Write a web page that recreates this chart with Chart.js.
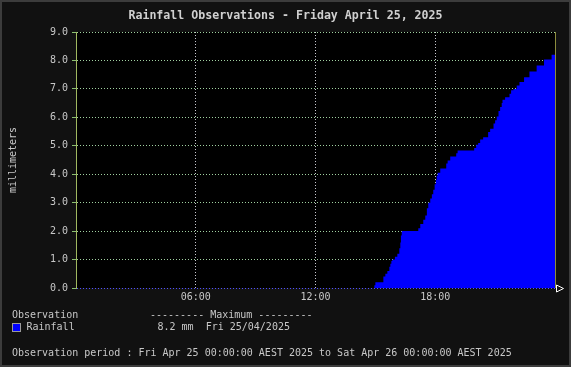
<!DOCTYPE html>
<html>
<head>
<meta charset="utf-8">
<script src="https://cdn.jsdelivr.net/npm/chart.js@4.4.1/dist/chart.umd.min.js"></script>
<style>
  html, body { margin: 0; padding: 0; background: #111111; }
  #wrap { position: relative; width: 571px; height: 367px; overflow: hidden; background: #111111; }
  #c { position: absolute; left: 0; top: 0; }
  .t { position: absolute; font-family: "DejaVu Sans Mono", monospace; font-size: 10px; line-height: 12px; color: #c8c8c8; white-space: pre; }
  #title { left: 0; width: 571px; text-align: center; top: 8px; font-size: 11.6px; line-height: 14px; font-weight: bold; color: #d0d0d0; }
  #swatch { position: absolute; left: 12px; top: 323px; width: 7px; height: 7px; background: #0000ff; border: 1px solid #9a9a9a; }
  #frame { position: absolute; left: 0; top: 0; width: 571px; height: 367px; box-sizing: border-box; border: 2px solid #3c3c3c; pointer-events: none; }
</style>
</head>
<body>
<div id="wrap">
  <canvas id="c" width="571" height="367"></canvas>
  <div class="t" id="title">Rainfall Observations - Friday April 25, 2025</div>
  <div class="t" style="left:12px; top:308.5px;">Observation</div>
  <div class="t" style="left:150px; top:308.5px;">--------- Maximum ---------</div>
  <div id="swatch"></div>
  <div class="t" style="left:26.5px; top:321.2px;">Rainfall</div>
  <div class="t" style="left:157.5px; top:321.2px;">8.2 mm  Fri 25/04/2025</div>
  <div class="t" style="left:12px; top:347.3px;">Observation period : Fri Apr 25 00:00:00 AEST 2025 to Sat Apr 26 00:00:00 AEST 2025</div>
  <div id="frame"></div>
</div>
<script>
// Observation times (hours since midnight) and cumulative rainfall (mm)
const obsHours = [0, 14.95, 15.0, 15.4, 15.5, 15.6, 15.7, 15.75, 15.8, 15.85, 15.98, 16.1, 16.2, 16.25, 16.28, 16.32,
  17.15, 17.25, 17.4, 17.5, 17.58, 17.65, 17.75, 17.83, 17.9, 17.97, 18.03, 18.07, 18.12, 18.25, 18.55, 18.62, 18.75,
  19.05, 19.12, 19.95, 20.05, 20.15, 20.25, 20.4, 20.65, 20.75, 20.92, 21.0, 21.08, 21.17, 21.25, 21.33, 21.37, 21.5,
  21.72, 21.8, 21.92, 22.08, 22.22, 22.45, 22.72, 23.08, 23.45, 23.83, 24];
const rainfallMm = [0, 0.1, 0.2, 0.4, 0.5, 0.6, 0.75, 0.85, 0.95, 1.0, 1.1, 1.2, 1.4, 1.6, 1.85, 2.0,
  2.1, 2.25, 2.4, 2.55, 2.8, 3.0, 3.15, 3.3, 3.45, 3.65, 3.8, 3.95, 4.05, 4.2, 4.38, 4.48, 4.62,
  4.74, 4.83, 4.92, 5.04, 5.1, 5.22, 5.3, 5.48, 5.6, 5.78, 5.9, 6.03, 6.22, 6.36, 6.5, 6.62, 6.71,
  6.83, 6.95, 7.0, 7.12, 7.24, 7.41, 7.61, 7.82, 8.03, 8.2, 8.2];
const xTickValues = [6, 12, 18];
const xTickLabels = ['06:00', '12:00', '18:00'];
const yMin = 0, yMax = 9, yStep = 1;

const FONT = 'DejaVu Sans Mono';

const decor = {
  id: 'decor',
  beforeDraw(chart) {
    const {ctx, chartArea: a} = chart;
    ctx.save();
    ctx.fillStyle = '#111111';
    ctx.fillRect(0, 0, chart.width, chart.height);
    ctx.fillStyle = '#000000';
    ctx.fillRect(a.left, a.top, a.right - a.left, a.bottom - a.top);
    ctx.restore();
  },
  afterDraw(chart) {
    const {ctx, chartArea: a} = chart;
    ctx.save();
    ctx.strokeStyle = '#8c8c3c';
    ctx.lineWidth = 1;
    ctx.beginPath();
    ctx.moveTo(Math.round(a.right) + 0.5, a.top);
    ctx.lineTo(Math.round(a.right) + 0.5, a.bottom);
    ctx.stroke();
    ctx.strokeStyle = '#ffffff';
    const x0 = Math.round(a.right) + 1.5, y0 = Math.round(a.bottom) + 0.5;
    ctx.beginPath();
    ctx.moveTo(x0, y0 - 3.5);
    ctx.lineTo(x0 + 7, y0);
    ctx.lineTo(x0, y0 + 3.5);
    ctx.closePath();
    ctx.stroke();
    ctx.restore();
  }
};

new Chart(document.getElementById('c'), {
  type: 'line',
  data: {
    datasets: [{
      label: 'Rainfall',
      data: obsHours.map((h, i) => ({x: h, y: rainfallMm[i]})),
      stepped: true,
      fill: 'origin',
      backgroundColor: '#0000ff',
      borderColor: '#0000ff',
      borderWidth: 0,
      pointRadius: 0
    }]
  },
  options: {
    responsive: false,
    animation: false,
    devicePixelRatio: 1,
    layout: {padding: {top: 32, right: 16, left: 0, bottom: 0}},
    plugins: {legend: {display: false}, tooltip: {enabled: false}, title: {display: false}},
    scales: {
      x: {
        type: 'linear',
        min: 0, max: 24,
        z: 1,
        afterFit(s) { s.height = 79; },
        afterBuildTicks(s) { s.ticks = xTickValues.map(v => ({value: v})); },
        ticks: {
          color: '#c8c8c8',
          font: {family: FONT, size: 10},
          padding: 3,
          maxRotation: 0,
          autoSkip: false,
          callback: (v) => xTickLabels[xTickValues.indexOf(v)] || ''
        },
        grid: {color: '#c8c8d0', drawTicks: false, lineWidth: 1},
        border: {display: false, dash: [1, 2]}
      },
      y: {
        min: yMin, max: yMax,
        z: 1,
        afterFit(s) { s.width = 76; },
        ticks: {
          stepSize: yStep,
          color: '#c8c8c8',
          font: {family: FONT, size: 10},
          padding: 4,
          callback: (v) => Number(v).toFixed(1)
        },
        grid: {
          color: (c) => c.tick && c.tick.value === 0 ? '#5050ff' : '#a0d0a0',
          tickColor: '#8cc070',
          tickLength: 4,
          lineWidth: 1
        },
        border: {display: true, color: '#a0b860', width: 1, dash: [1, 2]},
        title: {
          display: true,
          text: 'millimeters',
          color: '#c8c8c8',
          font: {family: FONT, size: 10},
          padding: {top: 7, bottom: 0}
        }
      }
    }
  },
  plugins: [decor]
});
</script>
</body>
</html>
